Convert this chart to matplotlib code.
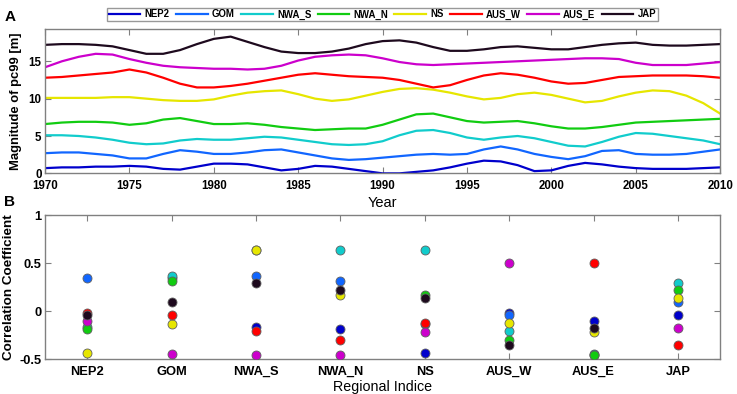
import numpy as np
import matplotlib
matplotlib.use("Agg")
import matplotlib.pyplot as plt

plt.rcParams['font.family'] = ['Liberation Sans', 'DejaVu Sans']

regions = ['NEP2', 'GOM', 'NWA_S', 'NWA_N', 'NS', 'AUS_W', 'AUS_E', 'JAP']
colors = ['#0000CC', '#1166FF', '#11CCCC', '#11CC11', '#E6E600', '#FF0000', '#CC00CC', '#1E0A1E']

years = np.arange(1970, 2011)

# pc99 magnitude per region, one value per year 1970-2010
nep2 = [0.7, 0.8, 0.8, 0.9, 0.9, 1.0, 0.9, 0.6, 0.5, 0.9, 1.3, 1.3, 1.2, 0.8, 0.4, 0.6, 1.0, 0.9, 0.6, 0.3,
        0.0, 0.0, 0.2, 0.4, 0.8, 1.3, 1.7, 1.6, 1.1, 0.3, 0.4, 1.0, 1.4, 1.2, 0.9, 0.7, 0.6, 0.6, 0.6, 0.7, 0.8]
gom = [2.7, 2.8, 2.8, 2.6, 2.4, 2.0, 2.0, 2.6, 3.1, 2.9, 2.6, 2.6, 2.8, 3.1, 3.2, 2.8, 2.4, 2.0, 1.8, 1.9,
       2.1, 2.3, 2.5, 2.6, 2.5, 2.6, 3.2, 3.6, 3.2, 2.6, 2.2, 1.9, 2.3, 3.0, 3.1, 2.6, 2.5, 2.5, 2.6, 2.9, 3.2]
nwa_s = [5.1, 5.1, 5.0, 4.8, 4.5, 4.1, 3.9, 4.0, 4.4, 4.6, 4.5, 4.5, 4.7, 4.9, 4.8, 4.5, 4.2, 3.9, 3.8, 3.9,
         4.3, 5.1, 5.7, 5.8, 5.4, 4.8, 4.5, 4.8, 5.0, 4.7, 4.2, 3.7, 3.6, 4.2, 4.9, 5.4, 5.3, 5.0, 4.7, 4.4, 3.9]
nwa_n = [6.6, 6.8, 6.9, 6.9, 6.8, 6.5, 6.7, 7.2, 7.4, 7.0, 6.6, 6.6, 6.7, 6.5, 6.2, 6.0, 5.8, 5.9, 6.0, 6.0,
         6.5, 7.2, 7.9, 8.0, 7.5, 7.0, 6.8, 6.9, 7.0, 6.7, 6.3, 6.0, 6.0, 6.2, 6.5, 6.8, 6.9, 7.0, 7.1, 7.2, 7.3]
ns = [10.1, 10.1, 10.1, 10.1, 10.2, 10.2, 10.0, 9.8, 9.7, 9.7, 9.9, 10.4, 10.8, 11.0, 11.1, 10.6, 10.0, 9.7, 9.9, 10.4,
      10.9, 11.3, 11.4, 11.2, 10.8, 10.3, 9.9, 10.1, 10.6, 10.8, 10.5, 10.0, 9.5, 9.7, 10.3, 10.8, 11.1, 11.0, 10.4, 9.4, 8.0]
aus_w = [12.8, 12.9, 13.1, 13.3, 13.5, 13.9, 13.5, 12.8, 12.0, 11.5, 11.5, 11.7, 12.0, 12.4, 12.8, 13.2, 13.4, 13.2, 13.0, 12.9,
         12.8, 12.5, 12.0, 11.5, 11.8, 12.5, 13.1, 13.4, 13.2, 12.8, 12.3, 12.0, 12.1, 12.5, 12.9, 13.0, 13.1, 13.1, 13.1, 13.0, 12.8]
aus_e = [14.2, 15.0, 15.6, 16.0, 15.9, 15.3, 14.8, 14.4, 14.2, 14.1, 14.0, 14.0, 13.9, 14.0, 14.4, 15.1, 15.6, 15.8, 15.9, 15.8,
         15.4, 14.9, 14.6, 14.5, 14.6, 14.7, 14.8, 14.9, 15.0, 15.1, 15.2, 15.3, 15.4, 15.4, 15.3, 14.8, 14.5, 14.5, 14.5, 14.7, 14.9]
jap = [17.2, 17.3, 17.3, 17.2, 17.0, 16.5, 16.0, 16.0, 16.5, 17.3, 18.0, 18.3, 17.6, 16.9, 16.3, 16.1, 16.1, 16.3, 16.7, 17.3,
       17.7, 17.8, 17.5, 16.9, 16.4, 16.4, 16.6, 16.9, 17.0, 16.8, 16.6, 16.6, 16.9, 17.2, 17.4, 17.5, 17.2, 17.1, 17.1, 17.2, 17.3]
series = [nep2, gom, nwa_s, nwa_n, ns, aus_w, aus_e, jap]

# correlation coefficients between regions (row = series colour, column = regional indice)
nan = np.nan
corr_nep2 = [nan, 0.35, -0.16, -0.18, -0.43, -0.02, -0.10, -0.04]
corr_gom = [0.35, nan, 0.37, 0.31, -0.13, -0.04, -0.44, 0.10]
corr_nwa_s = [-0.16, 0.37, nan, 0.64, 0.64, -0.21, -0.45, 0.29]
corr_nwa_n = [-0.18, 0.31, 0.64, nan, 0.165, -0.30, -0.46, 0.22]
corr_ns = [-0.43, -0.13, 0.64, 0.165, nan, -0.12, -0.22, 0.135]
corr_aus_w = [-0.02, -0.04, -0.21, -0.30, -0.12, nan, 0.50, -0.355]
corr_aus_e = [-0.10, -0.44, -0.45, -0.46, -0.22, 0.50, nan, -0.17]
corr_jap = [-0.04, 0.10, 0.29, 0.22, 0.135, -0.355, -0.17, nan]
corrs = [corr_nep2, corr_gom, corr_nwa_s, corr_nwa_n, corr_ns, corr_aus_w, corr_aus_e, corr_jap]

fig = plt.figure(figsize=(7.37, 3.94), dpi=100)
ax1 = fig.add_axes([0.0611, 0.560, 0.916, 0.366])
ax2 = fig.add_axes([0.0611, 0.088, 0.916, 0.366])

def style_axes(ax, size):
    for s in ax.spines.values():
        s.set_color('#808080')
        s.set_linewidth(1.0)
    ax.tick_params(direction='in', length=4, width=0.8, color='#808080',
                   top=True, right=True, labelsize=size)
    ax.tick_params(axis='x', pad=5)
    ax.tick_params(axis='y', pad=2.5)
    for lab in ax.get_xticklabels() + ax.get_yticklabels():
        lab.set_fontweight('bold')

handles = []
for name, c, vals in zip(regions, colors, series):
    h, = ax1.plot(years, vals, color=c, lw=1.6, label=name)
    handles.append(h)
ax1.set_xlim(1970, 2010)
ax1.set_ylim(0, 19.3)
ax1.set_xticks(range(1970, 2011, 5))
ax1.set_yticks([0, 5, 10, 15])
ax1.set_xlabel('Year', fontsize=10.5, labelpad=3)
ax1.set_ylabel('Magnitude of pc99 [m]', fontsize=9.4, fontweight='bold', labelpad=5)
style_axes(ax1, 8.3)

x = np.arange(1, len(regions) + 1)
for c, vals in zip(colors, corrs):
    ax2.scatter(x, vals, s=42, color=c, edgecolors='#606060', linewidths=0.6, zorder=3)
ax2.set_xlim(0.5, 8.5)
ax2.set_ylim(-0.5, 1)
ax2.set_xticks(x)
ax2.set_xticklabels(regions)
ax2.set_yticks([-0.5, 0, 0.5, 1])
ax2.set_yticklabels(['-0.5', '0', '0.5', '1'])
ax2.set_xlabel('Regional Indice', fontsize=10.3, labelpad=1)
ax2.set_ylabel('Correlation Coefficient', fontsize=9.7, fontweight='bold', labelpad=3)
style_axes(ax2, 9.3)

leg = fig.legend(handles=handles, loc='upper center', bbox_to_anchor=(0.519, 0.993), ncol=8,
                 frameon=True, fancybox=False, handlelength=3.3, handletextpad=0.45,
                 columnspacing=0.65, borderpad=0.2, prop={'size': 6.9, 'weight': 'bold'})
leg.get_frame().set_edgecolor('#808080')
leg.get_frame().set_linewidth(1.0)

fig.text(0.006, 0.975, 'A', fontsize=11, fontweight='bold', va='top')
fig.text(0.006, 0.505, 'B', fontsize=11, fontweight='bold', va='top')

fig.savefig('out.png', dpi=100)
